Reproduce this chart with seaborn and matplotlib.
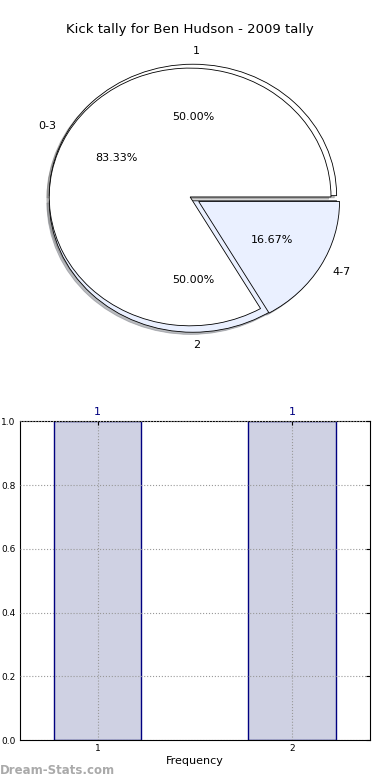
import matplotlib
matplotlib.use('Agg')
import matplotlib.pyplot as plt
import seaborn as sns
import pandas as pd

# data
innerLabels = ['1', '2']
innerValues = [1, 1]
outerLabels = ['0-3', '4-7']
outerValues = [5, 1]
freqCats = [1, 2]
freqVals = [1, 1]

sns.set_style('white')
plt.rcParams['font.family'] = ['DejaVu Sans']
plt.rcParams['text.color'] = 'black'
plt.rcParams['axes.labelcolor'] = 'black'
plt.rcParams['xtick.color'] = 'black'
plt.rcParams['ytick.color'] = 'black'

fig = plt.figure(figsize=(3.9, 7.8), dpi=100)

# --- pie panel ---
ax1 = fig.add_axes([0.036, 0.541, 0.903, 0.413])
pieCols = ['#ffffff', '#eaf0ff']
shad = dict(ox=-0.012, oy=-0.012, shade=0.5)
ax1.pie(innerValues, labels=innerLabels, colors=pieCols, autopct='%.2f%%',
        shadow=shad, explode=(0.02, 0.02), center=(0.02, -0.01), radius=1.02,
        startangle=0, wedgeprops=dict(edgecolor='black', linewidth=0.6),
        textprops=dict(fontsize=8))
ax1.pie(outerValues, labels=outerLabels, colors=pieCols, autopct='%.2f%%',
        shadow=shad, explode=(0, 0.07), startangle=0,
        wedgeprops=dict(edgecolor='black', linewidth=0.6),
        textprops=dict(fontsize=8))
ax1.set_aspect('auto')
ax1.set_xlim(-1.25, 1.25)
ax1.set_ylim(-1.25, 1.25)
ax1.set_title('Kick tally for Ben Hudson - 2009 tally', fontsize=9.5, pad=0)

# --- frequency panel ---
ax2 = fig.add_axes([0.051, 0.051, 0.897, 0.409])
df = pd.DataFrame({'value': freqCats, 'count': freqVals})
sns.barplot(data=df, x='value', y='count', native_scale=True, width=0.45,
            color='#ccceE6', edgecolor='#000080', linewidth=1, ax=ax2)
for x, v in zip(freqCats, freqVals):
    ax2.text(x, v + 0.012, str(v), ha='center', va='bottom', color='#000080', fontsize=8)
ax2.set_xlim(0.6, 2.4)
ax2.set_ylim(0, 1.0)
ax2.set_xticks(freqCats)
ax2.set_xticklabels([str(c) for c in freqCats])
ax2.set_yticks([0.0, 0.2, 0.4, 0.6, 0.8, 1.0])
ax2.set_yticklabels(['0.0', '0.2', '0.4', '0.6', '0.8', '1.0'])
ax2.tick_params(labelsize=6.5, direction='in', top=True, right=True, length=3, pad=3)
ax2.grid(True, linestyle=':', color='#999999', linewidth=0.8)
ax2.set_axisbelow(False)
ax2.set_xlabel('Frequency', fontsize=8, labelpad=2)
ax2.set_ylabel('')
for s in ax2.spines.values():
    s.set_color('black')
    s.set_linewidth(0.8)

fig.text(0.0, 0.004, 'Dream-Stats.com', fontsize=8.5, color='#aaaaaa',
         fontweight='bold', ha='left', va='bottom')

fig.savefig('out.png', dpi=100)
